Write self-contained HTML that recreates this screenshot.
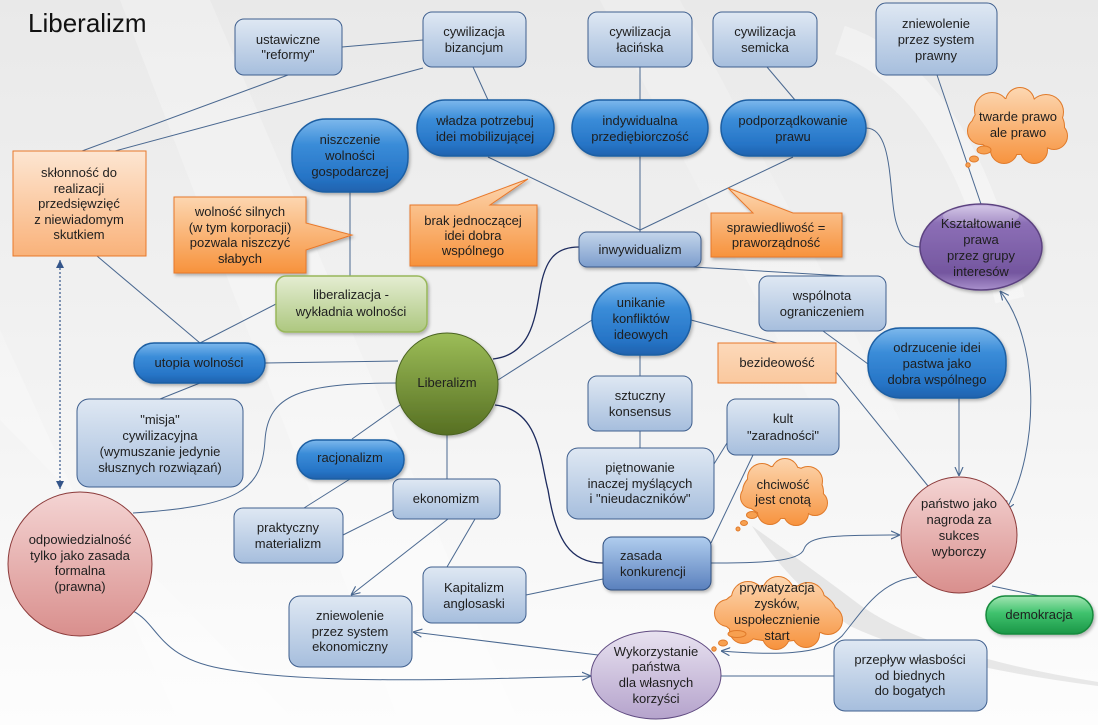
<!DOCTYPE html>
<html><head><meta charset="utf-8"><style>
html,body{margin:0;padding:0;background:#f2f2f2;}
svg{display:block;}
text{font-family:"Liberation Sans",Arial,sans-serif;font-size:13px;fill:#1e1e1e;text-anchor:middle;}
</style></head><body>
<svg width="1098" height="725" viewBox="0 0 1098 725" xmlns="http://www.w3.org/2000/svg">
<defs>
<linearGradient id="bg" x1="0" y1="0" x2="0" y2="1"><stop offset="0" stop-color="#e9e9e9"/><stop offset="0.55" stop-color="#f3f3f3"/><stop offset="1" stop-color="#fdfdfd"/></linearGradient>
<linearGradient id="lb" x1="0" y1="0" x2="0" y2="1"><stop offset="0" stop-color="#dfe8f3"/><stop offset="1" stop-color="#a6bedd"/></linearGradient>
<linearGradient id="mb" x1="0" y1="0" x2="0" y2="1"><stop offset="0" stop-color="#c4d5ea"/><stop offset="1" stop-color="#7c9dcd"/></linearGradient>
<linearGradient id="db" x1="0" y1="0" x2="0" y2="1"><stop offset="0" stop-color="#b0cdee"/><stop offset="1" stop-color="#5a80bd"/></linearGradient>
<linearGradient id="pill" x1="0" y1="0" x2="0" y2="1"><stop offset="0" stop-color="#7db8ec"/><stop offset="0.35" stop-color="#3a8cd8"/><stop offset="0.8" stop-color="#2674c6"/><stop offset="1" stop-color="#1f62ae"/></linearGradient>
<linearGradient id="or" x1="0" y1="0" x2="0" y2="1"><stop offset="0" stop-color="#fcd6b0"/><stop offset="1" stop-color="#f7923c"/></linearGradient>
<linearGradient id="orl" x1="0" y1="0" x2="0" y2="1"><stop offset="0" stop-color="#fde6d2"/><stop offset="1" stop-color="#f9b27a"/></linearGradient>
<linearGradient id="orf" x1="0" y1="0" x2="0" y2="1"><stop offset="0" stop-color="#fcd9ba"/><stop offset="1" stop-color="#fac89e"/></linearGradient>
<linearGradient id="gr" x1="0" y1="0" x2="0" y2="1"><stop offset="0" stop-color="#e4edd2"/><stop offset="1" stop-color="#adc77f"/></linearGradient>
<linearGradient id="lib" x1="0" y1="0" x2="0" y2="1"><stop offset="0" stop-color="#9cbd58"/><stop offset="1" stop-color="#566f22"/></linearGradient>
<linearGradient id="pk" x1="0" y1="0" x2="0" y2="1"><stop offset="0" stop-color="#f4d4d3"/><stop offset="1" stop-color="#d98f8d"/></linearGradient>
<linearGradient id="pu" x1="0" y1="0" x2="0" y2="1"><stop offset="0" stop-color="#c9b8e2"/><stop offset="0.22" stop-color="#8c6fb6"/><stop offset="0.8" stop-color="#74569f"/><stop offset="1" stop-color="#a990cc"/></linearGradient>
<linearGradient id="pl" x1="0" y1="0" x2="0" y2="1"><stop offset="0" stop-color="#e8e2f0"/><stop offset="1" stop-color="#b5a3cc"/></linearGradient>
<linearGradient id="dm" x1="0" y1="0" x2="0" y2="1"><stop offset="0" stop-color="#a2e6b3"/><stop offset="0.45" stop-color="#3fc26d"/><stop offset="1" stop-color="#1b9747"/></linearGradient>
<linearGradient id="c1" gradientUnits="userSpaceOnUse" x1="0" y1="89" x2="0" y2="165"><stop offset="0" stop-color="#fcd6b0"/><stop offset="1" stop-color="#f7923c"/></linearGradient>
<linearGradient id="c2" gradientUnits="userSpaceOnUse" x1="0" y1="458" x2="0" y2="527"><stop offset="0" stop-color="#fcd6b0"/><stop offset="1" stop-color="#f7923c"/></linearGradient>
<linearGradient id="c3" gradientUnits="userSpaceOnUse" x1="0" y1="578" x2="0" y2="650"><stop offset="0" stop-color="#fcd6b0"/><stop offset="1" stop-color="#f7923c"/></linearGradient>
<filter id="sh" x="-10%" y="-10%" width="125%" height="130%"><feDropShadow dx="1.5" dy="2" stdDeviation="1.5" flood-color="#000" flood-opacity="0.28"/></filter>
<marker id="ao" viewBox="0 0 10 10" refX="10" refY="5" markerWidth="9" markerHeight="9" orient="auto-start-reverse" markerUnits="userSpaceOnUse"><path d="M0,0.5 L10,5 L0,9.5" fill="none" stroke="#4a6890" stroke-width="1.3"/></marker>
<marker id="af" viewBox="0 0 10 10" refX="10" refY="5" markerWidth="8" markerHeight="9" orient="auto-start-reverse" markerUnits="userSpaceOnUse"><path d="M0,0 L10,5 L0,10 z" fill="#34558a"/></marker>
</defs>

<!-- background -->
<rect width="1098" height="725" fill="url(#bg)"/>
<polygon points="120,0 210,0 520,725 400,725" fill="#ffffff" opacity="0.25"/>
<polygon points="0,330 0,420 300,725 180,725" fill="#ffffff" opacity="0.25"/>
<polygon points="600,0 680,0 900,420 820,420" fill="#ffffff" opacity="0.2"/>
<path d="M752,526 Q800,560 860,605 Q930,655 1098,682 L1098,686 Q930,664 850,626 Q792,588 752,526 Z" fill="#d4d4d4" opacity="0.5"/>
<path d="M840,40 Q960,80 1010,300" fill="none" stroke="#ffffff" stroke-width="30" opacity="0.35"/>

<!-- title -->
<text x="28" y="32" style="font-size:26px;text-anchor:start;fill:#111">Liberalizm</text>

<!-- connectors -->
<g fill="none" stroke="#4a6890" stroke-width="1">
<line x1="288" y1="75" x2="82" y2="151"/>
<line x1="342" y1="47" x2="423" y2="40"/>
<line x1="423" y1="68" x2="115" y2="151"/>
<line x1="473" y1="67" x2="488" y2="100"/>
<line x1="640" y1="67" x2="640" y2="100"/>
<line x1="767" y1="67" x2="795" y2="100"/>
<line x1="488" y1="157" x2="640" y2="230"/>
<line x1="640" y1="156" x2="640" y2="232"/>
<line x1="793" y1="157" x2="640" y2="230"/>
<path d="M866,128 C895,128 888,200 897,225 C903,243 910,247 921,247"/>
<line x1="937" y1="75" x2="981" y2="204"/>
<path d="M1006,510 C1040,450 1040,340 1000,291" marker-end="url(#ao)" marker-start="url(#ao)"/>
<line x1="350" y1="192" x2="350" y2="276"/>
<line x1="97" y1="256" x2="200" y2="343"/>
<line x1="276" y1="304" x2="200" y2="343"/>
<line x1="265" y1="363" x2="398" y2="361"/>
<line x1="200" y1="383" x2="160" y2="399"/>
<path d="M397,383 C300,383 268,395 265,440 C262,490 240,506 133,513"/>
<line x1="400" y1="405" x2="352" y2="439"/>
<line x1="447" y1="435" x2="447" y2="479"/>
<line x1="350" y1="479" x2="304" y2="508"/>
<line x1="393" y1="510" x2="343" y2="535"/>
<line x1="448" y1="519" x2="351" y2="595" marker-end="url(#ao)"/>
<line x1="475" y1="519" x2="447" y2="567"/>
<line x1="526" y1="595" x2="603" y2="579"/>
<line x1="498" y1="380" x2="592" y2="320"/>
<line x1="640" y1="355" x2="640" y2="376"/>
<line x1="640" y1="431" x2="640" y2="448"/>
<line x1="691" y1="320" x2="777" y2="343"/>
<line x1="693" y1="267" x2="845" y2="276"/>
<line x1="823" y1="331" x2="868" y2="364"/>
<line x1="836" y1="372" x2="928" y2="486"/>
<line x1="959" y1="398" x2="959" y2="476" marker-end="url(#ao)"/>
<line x1="714" y1="464" x2="727" y2="443"/>
<line x1="753" y1="455" x2="711" y2="543"/>
<path d="M711,563 C760,563 800,562 804,549 C809,536 830,535 900,535" marker-end="url(#ao)"/>
<path d="M917,577 C880,580 862,612 842,636 C822,656 770,655 721,651" marker-end="url(#ao)"/>
<line x1="721" y1="676" x2="834" y2="676"/>
<line x1="598" y1="655" x2="413" y2="632" marker-end="url(#ao)"/>
<path d="M133,611 C160,625 158,660 230,670 C320,684 450,680 591,676" marker-end="url(#ao)"/>
<line x1="992" y1="586" x2="1040" y2="596"/>
</g>
<g fill="none" stroke="#1d2b5e" stroke-width="1.3">
<path d="M493,359 C530,355 535,320 540,290 C545,260 555,247 579,247"/>
<path d="M495,405 C540,410 540,460 548,490 C556,540 570,563 603,563"/>
</g>
<line x1="60" y1="260" x2="60" y2="489" stroke="#34558a" stroke-width="1.2" stroke-dasharray="2,2" marker-end="url(#af)" marker-start="url(#af)"/>

<!-- light blue boxes -->
<g stroke="#3f5f8e" stroke-width="1" fill="url(#lb)">
<rect x="235" y="19" width="107" height="56" rx="9"/>
<rect x="423" y="12" width="103" height="55" rx="9"/>
<rect x="588" y="12" width="104" height="55" rx="9"/>
<rect x="713" y="12" width="104" height="55" rx="9"/>
<rect x="876" y="3" width="121" height="72" rx="10"/>
<rect x="77" y="399" width="166" height="88" rx="12"/>
<rect x="393" y="479" width="107" height="40" rx="7"/>
<rect x="234" y="508" width="109" height="55" rx="9"/>
<rect x="289" y="596" width="123" height="71" rx="11"/>
<rect x="423" y="567" width="103" height="56" rx="9"/>
<rect x="834" y="640" width="153" height="71" rx="11"/>
<rect x="759" y="276" width="127" height="55" rx="9"/>
<rect x="588" y="376" width="104" height="55" rx="9"/>
<rect x="567" y="448" width="147" height="71" rx="11"/>
<rect x="727" y="399" width="112" height="56" rx="9"/>
</g>
<rect x="579" y="232" width="122" height="35" rx="8" fill="url(#mb)" stroke="#3a5a8a" filter="url(#sh)"/>
<rect x="603" y="537" width="108" height="53" rx="9" fill="url(#db)" stroke="#2f4f80" filter="url(#sh)"/>

<!-- dark blue pills -->
<g fill="url(#pill)" stroke="#1c5ea3" stroke-width="1.5" filter="url(#sh)">
<rect x="417" y="100" width="137" height="56" rx="28"/>
<rect x="572" y="100" width="136" height="56" rx="28"/>
<rect x="721" y="100" width="145" height="56" rx="28"/>
<rect x="292" y="119" width="116" height="73" rx="34"/>
<rect x="134" y="343" width="131" height="40" rx="20"/>
<rect x="297" y="440" width="107" height="39" rx="19"/>
<rect x="592" y="283" width="99" height="72" rx="36"/>
<rect x="868" y="328" width="138" height="70" rx="32"/>
</g>

<!-- orange -->
<rect x="13" y="151" width="133" height="105" fill="url(#orl)" stroke="#e8782a"/>
<path d="M174,197 H306 V223 L352,235 L306,250 V273 H174 Z" fill="url(#or)" stroke="#e8782a" filter="url(#sh)"/>
<path d="M410,205 H458 L528,179 L490,205 H537 V266 H410 Z" fill="url(#or)" stroke="#e8782a" filter="url(#sh)"/>
<path d="M711,213 H753 L728,188 L793,213 H842 V257 H711 Z" fill="url(#or)" stroke="#e8782a" filter="url(#sh)"/>
<rect x="718" y="343" width="118" height="40" fill="url(#orf)" stroke="#e8782a"/>

<!-- green -->
<rect x="276" y="276" width="151" height="56" rx="10" fill="url(#gr)" stroke="#98b75a" stroke-width="1.5" filter="url(#sh)"/>
<rect x="986" y="596" width="107" height="38" rx="19" fill="url(#dm)" stroke="#178a3c" stroke-width="1.5" filter="url(#sh)"/>
<circle cx="447" cy="384" r="51" fill="url(#lib)" stroke="#4a6220" filter="url(#sh)"/>

<!-- pink circles -->
<circle cx="80" cy="564" r="72" fill="url(#pk)" stroke="#8b3a3a"/>
<circle cx="959" cy="535" r="58" fill="url(#pk)" stroke="#8b3a3a"/>

<!-- purple -->
<ellipse cx="981" cy="247" rx="61" ry="43" fill="url(#pu)" stroke="#5c4280" stroke-width="1.5" filter="url(#sh)"/>
<ellipse cx="981" cy="216" rx="38" ry="10" fill="#ffffff" opacity="0.25"/>
<ellipse cx="656" cy="675" rx="65" ry="44" fill="url(#pl)" stroke="#5f4a80"/>

<!-- clouds -->
<g stroke="#e07a2a" stroke-width="2" fill="url(#c1)">
<ellipse cx="1018" cy="126" rx="46" ry="28"/><circle cx="992" cy="110" r="17"/><circle cx="1020" cy="102" r="14"/><circle cx="1046" cy="112" r="17"/><circle cx="1054" cy="136" r="13"/><circle cx="1034" cy="150" r="13"/><circle cx="1004" cy="150" r="13"/><circle cx="981" cy="131" r="13"/>
</g>
<g fill="url(#c1)">
<ellipse cx="1018" cy="126" rx="46" ry="28"/><circle cx="992" cy="110" r="17"/><circle cx="1020" cy="102" r="14"/><circle cx="1046" cy="112" r="17"/><circle cx="1054" cy="136" r="13"/><circle cx="1034" cy="150" r="13"/><circle cx="1004" cy="150" r="13"/><circle cx="981" cy="131" r="13"/>
</g>
<g fill="#f7a050" stroke="#e07a2a"><ellipse cx="984" cy="150" rx="7" ry="4"/><ellipse cx="974" cy="159" rx="4.5" ry="3"/><circle cx="968" cy="165" r="2.2"/></g>

<g stroke="#e07a2a" stroke-width="2" fill="url(#c2)">
<ellipse cx="783" cy="492" rx="40" ry="26"/><circle cx="762" cy="478" r="14"/><circle cx="785" cy="472" r="13"/><circle cx="808" cy="481" r="14"/><circle cx="815" cy="503" r="12"/><circle cx="796" cy="513" r="12"/><circle cx="770" cy="512" r="12"/><circle cx="752" cy="497" r="11"/>
</g>
<g fill="url(#c2)">
<ellipse cx="783" cy="492" rx="40" ry="26"/><circle cx="762" cy="478" r="14"/><circle cx="785" cy="472" r="13"/><circle cx="808" cy="481" r="14"/><circle cx="815" cy="503" r="12"/><circle cx="796" cy="513" r="12"/><circle cx="770" cy="512" r="12"/><circle cx="752" cy="497" r="11"/>
</g>
<g fill="#f7a050" stroke="#e07a2a"><ellipse cx="752" cy="515" rx="5.5" ry="3.5"/><ellipse cx="744" cy="523" rx="3.5" ry="2.5"/><circle cx="738" cy="529" r="2"/></g>

<g stroke="#e07a2a" stroke-width="2" fill="url(#c3)">
<ellipse cx="778" cy="613" rx="58" ry="28"/><circle cx="748" cy="598" r="16"/><circle cx="778" cy="592" r="15"/><circle cx="808" cy="599" r="16"/><circle cx="828" cy="620" r="14"/><circle cx="806" cy="634" r="13"/><circle cx="776" cy="636" r="13"/><circle cx="743" cy="630" r="13"/><circle cx="728" cy="613" r="13"/>
</g>
<g fill="url(#c3)">
<ellipse cx="778" cy="613" rx="58" ry="28"/><circle cx="748" cy="598" r="16"/><circle cx="778" cy="592" r="15"/><circle cx="808" cy="599" r="16"/><circle cx="828" cy="620" r="14"/><circle cx="806" cy="634" r="13"/><circle cx="776" cy="636" r="13"/><circle cx="743" cy="630" r="13"/><circle cx="728" cy="613" r="13"/>
</g>
<g fill="#f7a050" stroke="#e07a2a"><ellipse cx="737" cy="634" rx="9" ry="3.5"/><ellipse cx="723" cy="643" rx="4.5" ry="3"/><circle cx="714" cy="649" r="2.2"/></g>

<!-- texts -->
<text x="288" y="44">ustawiczne</text><text x="288" y="59">"reformy"</text>
<text x="474" y="36">cywilizacja</text><text x="474" y="52">bizancjum</text>
<text x="640" y="36">cywilizacja</text><text x="640" y="52">łacińska</text>
<text x="765" y="36">cywilizacja</text><text x="765" y="52">semicka</text>
<text x="936" y="28">zniewolenie</text><text x="936" y="44">przez system</text><text x="936" y="60">prawny</text>
<text x="485" y="125">władza potrzebuj</text><text x="485" y="141">idei mobilizującej</text>
<text x="640" y="125">indywidualna</text><text x="640" y="141">przediębiorczość</text>
<text x="793" y="125">podporządkowanie</text><text x="793" y="141">prawu</text>
<text x="350" y="144">niszczenie</text><text x="350" y="160">wolności</text><text x="350" y="176">gospodarczej</text>
<text x="79" y="177">skłonność do</text><text x="79" y="193">realizacji</text><text x="79" y="208">przedsięwzięć</text><text x="79" y="224">z niewiadomym</text><text x="79" y="239">skutkiem</text>
<text x="240" y="216">wolność silnych</text><text x="240" y="232">(w tym korporacji)</text><text x="240" y="247">pozwala niszczyć</text><text x="240" y="263">słabych</text>
<text x="473" y="225">brak jednoczącej</text><text x="473" y="240">idei dobra</text><text x="473" y="255">wspólnego</text>
<text x="776" y="232">sprawiedliwość =</text><text x="776" y="247">praworządność</text>
<text x="640" y="254">inwywidualizm</text>
<text x="1018" y="121">twarde prawo</text><text x="1018" y="137">ale prawo</text>
<text x="981" y="228">Kształtowanie</text><text x="981" y="244">prawa</text><text x="981" y="260">przez grupy</text><text x="981" y="276">interesów</text>
<text x="351" y="299">liberalizacja -</text><text x="351" y="316">wykładnia wolności</text>
<text x="199" y="367">utopia wolności</text>
<text x="447" y="387">Liberalizm</text>
<text x="160" y="424">"misja"</text><text x="160" y="440">cywilizacyjna</text><text x="160" y="456">(wymuszanie jedynie</text><text x="160" y="472">słusznych rozwiązań)</text>
<text x="350" y="462">racjonalizm</text>
<text x="446" y="503">ekonomizm</text>
<text x="288" y="532">praktyczny</text><text x="288" y="548">materializm</text>
<text x="80" y="544">odpowiedzialność</text><text x="80" y="560">tylko jako zasada</text><text x="80" y="575">formalna</text><text x="80" y="591">(prawna)</text>
<text x="350" y="620">zniewolenie</text><text x="350" y="636">przez system</text><text x="350" y="651">ekonomiczny</text>
<text x="474" y="592">Kapitalizm</text><text x="474" y="608">anglosaski</text>
<text x="620" y="560" style="text-anchor:start">zasada</text><text x="620" y="576" style="text-anchor:start">konkurencji</text>
<text x="656" y="656">Wykorzystanie</text><text x="656" y="671">państwa</text><text x="656" y="687">dla własnych</text><text x="656" y="703">korzyści</text>
<text x="777" y="592">prywatyzacja</text><text x="777" y="608">zysków,</text><text x="777" y="624">uspołecznienie</text><text x="777" y="640">start</text>
<text x="783" y="489">chciwość</text><text x="783" y="504">jest cnotą</text>
<text x="910" y="664">przepływ własbości</text><text x="910" y="680">od biednych</text><text x="910" y="695">do bogatych</text>
<text x="1039" y="619">demokracja</text>
<text x="959" y="508">państwo jako</text><text x="959" y="524">nagroda za</text><text x="959" y="540">sukces</text><text x="959" y="556">wyborczy</text>
<text x="937" y="352">odrzucenie idei</text><text x="937" y="368">pastwa jako</text><text x="937" y="384">dobra wspólnego</text>
<text x="822" y="300">wspólnota</text><text x="822" y="316">ograniczeniem</text>
<text x="777" y="367">bezideowość</text>
<text x="641" y="307">unikanie</text><text x="641" y="323">konfliktów</text><text x="641" y="339">ideowych</text>
<text x="640" y="400">sztuczny</text><text x="640" y="416">konsensus</text>
<text x="640" y="472">piętnowanie</text><text x="640" y="488">inaczej myślących</text><text x="640" y="503">i "nieudaczników"</text>
<text x="783" y="423">kult</text><text x="783" y="440">"zaradności"</text>
</svg>
</body></html>
